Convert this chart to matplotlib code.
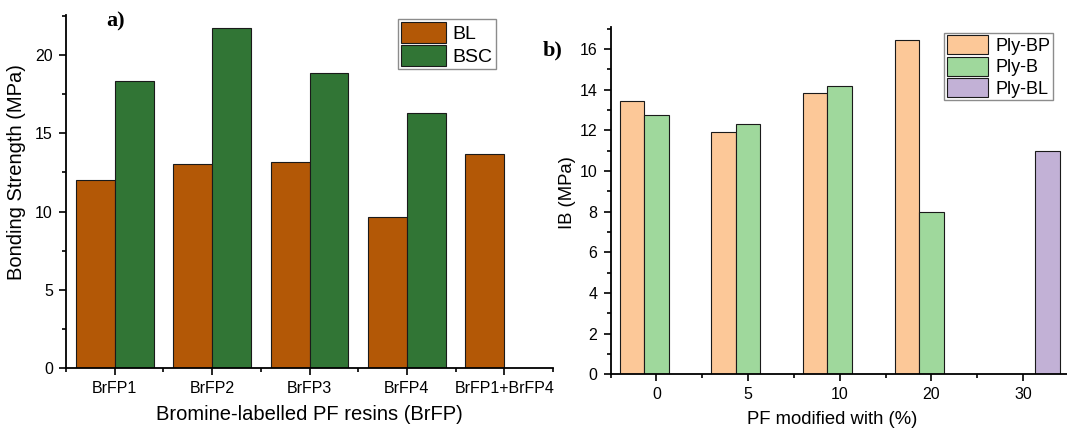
import numpy as np
import matplotlib
matplotlib.use('Agg')
import matplotlib.pyplot as plt
from matplotlib.ticker import MultipleLocator

plt.rcParams['font.family'] = ['Liberation Sans', 'DejaVu Sans']

# a) bonding strength of the bromine-labelled resins
resins = ['BrFP1', 'BrFP2', 'BrFP3', 'BrFP4', 'BrFP1+BrFP4']
bl = [12.0, 13.02, 13.19, 9.68, 13.70]
bsc = [18.32, 21.70, 18.83, 16.28, np.nan]

# b) internal bond of plywood vs. PF modification level
pf_levels = ['0', '5', '10', '20', '30']
ply_bp = [13.46, 11.93, 13.82, 16.43, np.nan]
ply_b = [12.77, 12.33, 14.17, 7.97, np.nan]
ply_bl = [np.nan, np.nan, np.nan, np.nan, 10.97]

fig = plt.figure(figsize=(10.67, 4.34), dpi=100)
ax1 = fig.add_axes([0.0619, 0.1514, 0.4564, 0.814])
ax2 = fig.add_axes([0.5722, 0.1376, 0.4278, 0.801])


def style_axis(ax, tick_size):
    for s in ['top', 'right']:
        ax.spines[s].set_visible(False)
    for s in ['left', 'bottom']:
        ax.spines[s].set_linewidth(1.3)
    ax.tick_params(which='major', direction='out', length=5, width=1.2,
                   labelsize=tick_size, pad=4.5)
    ax.tick_params(which='minor', direction='out', length=3, width=1.2)
    ax.xaxis.set_minor_locator(MultipleLocator(1, offset=0.5))


x = np.arange(len(resins))
w = 0.4
ax1.bar(x - w/2, bl, w, color='#b35806', edgecolor='#1a1a1a', linewidth=0.8, label='BL')
ax1.bar(x + w/2, bsc, w, color='#317535', edgecolor='#1a1a1a', linewidth=0.8, label='BSC')
ax1.set_xlim(-0.5, 4.5)
ax1.set_ylim(0, 22.55)
ax1.set_xticks(x)
ax1.set_xticklabels(resins)
ax1.yaxis.set_major_locator(MultipleLocator(5))
ax1.yaxis.set_minor_locator(MultipleLocator(2.5))
style_axis(ax1, 11.5)
ax1.set_xlabel('Bromine-labelled PF resins (BrFP)', fontsize=14.5, labelpad=6)
ax1.set_ylabel('Bonding Strength (MPa)', fontsize=14.5)
ax1.yaxis.set_label_coords(-0.082, 0.556)
leg1 = ax1.legend(loc='upper left', bbox_to_anchor=(0.682, 0.989), fontsize=14,
                  handlelength=2.3, handleheight=1.3, handletextpad=0.35,
                  labelspacing=0.1, borderpad=0.15, borderaxespad=0,
                  fancybox=False, edgecolor='#8c8c8c', framealpha=1)
leg1.get_frame().set_linewidth(1.0)

x2 = np.arange(len(pf_levels))
w2 = 0.266
ax2.bar(x2 - w2, ply_bp, w2, color='#fcc898', edgecolor='#1a1a1a', linewidth=0.8, label='Ply-BP')
ax2.bar(x2, ply_b, w2, color='#9fd89c', edgecolor='#1a1a1a', linewidth=0.8, label='Ply-B')
ax2.bar(x2 + w2, ply_bl, w2, color='#c2b1d6', edgecolor='#1a1a1a', linewidth=0.8, label='Ply-BL')
ax2.set_xlim(-0.5, 4.48)
ax2.set_ylim(0, 17.1)
ax2.set_xticks(x2)
ax2.set_xticklabels(pf_levels)
ax2.yaxis.set_major_locator(MultipleLocator(2))
ax2.yaxis.set_minor_locator(MultipleLocator(1))
style_axis(ax2, 11.5)
ax2.set_xlabel('PF modified with (%)', fontsize=13.3, labelpad=6)
ax2.set_ylabel('IB (MPa)', fontsize=13.3)
ax2.yaxis.set_label_coords(-0.076, 0.524)
ax2.xaxis.set_label_coords(0.485, -0.105)
leg2 = ax2.legend(loc='upper left', bbox_to_anchor=(0.731, 0.983), fontsize=13,
                  handlelength=2.3, handleheight=1.25, handletextpad=0.4,
                  labelspacing=0.1, borderpad=0.15, borderaxespad=0,
                  fancybox=False, edgecolor='#8c8c8c', framealpha=1)
leg2.get_frame().set_linewidth(1.0)

fig.text(0.0993, 0.9385, 'a)', fontsize=16, fontweight='bold',
         family=['Liberation Serif', 'DejaVu Serif'], va='baseline')
fig.text(0.5086, 0.873, 'b)', fontsize=16, fontweight='bold',
         family=['Liberation Serif', 'DejaVu Serif'], va='baseline')

fig.savefig('out.png', dpi=100)
